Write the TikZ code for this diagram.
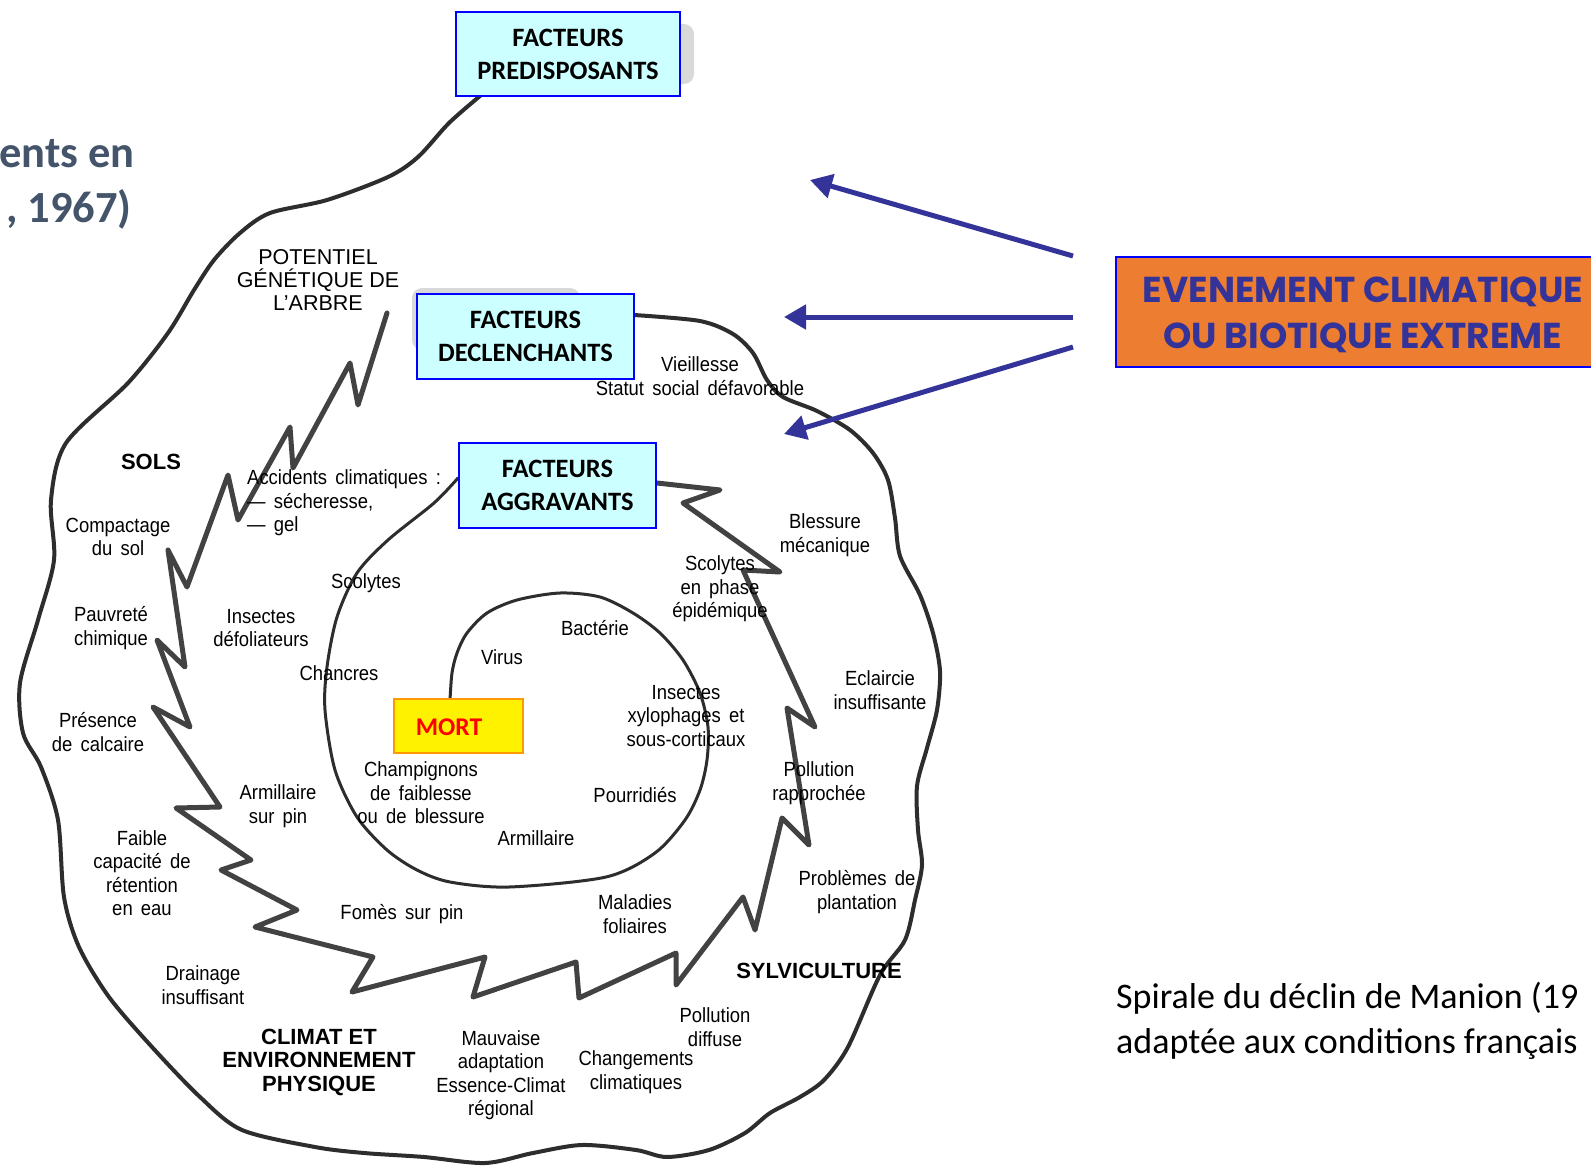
\documentclass[tikz,border=0pt]{standalone}
\usepackage{fontspec}
\setmainfont{Liberation Sans}
\newfontfamily\labfont[FakeStretch=0.9, WordSpace=1.6]{Liberation Sans}
\newfontfamily\boxfont{Carlito}
\newfontfamily\evfont{Poppins}
\usetikzlibrary{arrows.meta}
\definecolor{boxcyan}{RGB}{204,255,255}
\definecolor{boxblue}{RGB}{0,0,255}
\definecolor{evorange}{RGB}{237,125,49}
\definecolor{evblue}{RGB}{51,51,153}
\definecolor{slate}{RGB}{68,84,106}
\definecolor{ink}{RGB}{45,45,45}
\definecolor{mortred}{RGB}{255,0,0}
\definecolor{mortorange}{RGB}{255,153,0}
\tikzset{
  lab/.style={font=\labfont\fontsize{20.5}{23.5}\selectfont, align=center, inner sep=0pt},
  labw/.style={font=\fontsize{21.5}{23}\selectfont, align=center, inner sep=0pt},
  labb/.style={font=\bfseries\fontsize{22}{23.5}\selectfont, align=center, inner sep=0pt},
  facteur/.style={draw=boxblue, fill=boxcyan, line width=1.6pt, font=\boxfont\bfseries\fontsize{26.5}{33}\selectfont, align=center, inner sep=0pt},
  outerline/.style={draw=ink, line width=4pt, line cap=round, line join=round},
  midline/.style={draw=ink, line width=3pt, line cap=round, line join=round},
  zig/.style={draw=ink!90!white, line width=5pt, line cap=round, line join=round},
  evarrow/.style={draw=evblue, line width=5pt, -{Triangle[length=22pt,width=24pt]}},
  shade/.style={fill=gray!30, rounded corners=10pt}
}
\begin{document}
\begin{tikzpicture}[x=1pt,y=-1pt]
\useasboundingbox (0,0) rectangle (1591,1175);
\fill[white] (0,0) rectangle (1591,1175);

% title fragments on the left
\node[anchor=base east, inner sep=0pt, text=slate, font=\boxfont\bfseries\fontsize{44.5}{50}\selectfont] (t1) at (135,167) {ents en};
\node[anchor=base east, inner sep=0pt, text=slate, font=\boxfont\bfseries\fontsize{44.5}{50}\selectfont] (t2) at (132,222) {, 1967)};

% soft shadows from the scanned figure
\fill[shade] (662,24) rectangle (694,84);
\fill[shade] (412,288) rectangle (580,350);

% outer spiral curve
\draw[outerline] plot[smooth] coordinates {(480,96) (449,123) (418,157) (388,177) (327,200) (270,213) (240,233) (214,260) (194,290) (168,333) (128,383) (66,443) (51,500) (54,560) (38,620) (20,683) (23,733) (41,767) (58,820) (64,897) (79,947) (109,997) (152,1047) (200,1097) (242,1130) (315,1147) (364,1153) (424,1157) (485,1163) (533,1153) (582,1145) (636,1150) (667,1157) (709,1150) (745,1133) (770,1113) (800,1097) (824,1080) (848,1047) (880,975) (905,940) (915,900) (922,865) (918,830) (917,786) (927,748) (937,710) (940,671) (933,633) (920,595) (900,556) (895,518) (888,480) (873,453) (850,430) (817,411) (783,397) (767,380) (753,353) (733,334) (700,321) (634,315)};

% middle spiral ending at MORT
\draw[midline] plot[smooth] coordinates {(458,478) (434,503) (388,540) (357,573) (337,617) (327,667) (325,710) (335,770) (357,817) (387,850) (417,870) (450,882) (509,887) (606,877) (655,853) (685,820) (700,790) (707,760) (708,727) (700,693) (683,660) (660,633) (633,613) (600,597) (560,593) (517,600) (487,613) (467,633) (457,653) (452,673) (450,700)};

% zigzag (lightning) band
\draw[zig] (387,313) -- (358,405) -- (350,363) -- (293,468) -- (290,427) -- (238,520) -- (228,475) -- (187,587) -- (168,550) -- (185,667) -- (157,640) -- (190,727) -- (153,707) -- (220,807) -- (176,808) -- (251,860) -- (221,870) -- (297,910) -- (255,927) -- (373,957) -- (352,992) -- (485,957) -- (473,997) -- (576,962) -- (579,998) -- (676,953) -- (676,985) -- (743,897) -- (755,930) -- (782,818) -- (809,845) -- (787,708) -- (815,727) -- (743,570) -- (780,572) -- (683,503) -- (720,490) -- (657,483);

% boxes
\node[facteur, minimum width=224pt, minimum height=84pt] (pred) at (568,54) {FACTEURS\\PREDISPOSANTS};
\node[facteur, minimum width=217pt, minimum height=85pt] (decl) at (525.5,336.5) {FACTEURS\\DECLENCHANTS};
\node[facteur, minimum width=197pt, minimum height=85pt] (aggr) at (557.5,485.5) {FACTEURS\\AGGRAVANTS};
\node[draw=mortorange, fill=yellow, line width=1.6pt, minimum width=129pt, minimum height=54pt, inner sep=0pt] (mort) at (458.5,726) {};
\node[inner sep=0pt, text=mortred, font=\boxfont\bfseries\fontsize{25.5}{30}\selectfont] (mortt) at (449,727) {MORT};

\node[draw=boxblue, fill=evorange, line width=1.6pt, minimum width=504pt, minimum height=110pt, inner sep=0pt] (ev) at (1368,312) {};
\node[inner sep=0pt, text=evblue, align=center, font=\evfont\bfseries\fontsize{36}{46}\selectfont] (evt) at (1363,315) {EVENEMENT CLIMATIQUE\\OU BIOTIQUE EXTREME};

% blue arrows
\coordinate (a1s) at (1073,256); \coordinate (a1e) at (810,180);
\coordinate (a2s) at (1073,317); \coordinate (a2e) at (784,317);
\coordinate (a3s) at (1073,347); \coordinate (a3e) at (784,434);
\draw[evarrow] (a1s) -- (a1e);
\draw[evarrow] (a2s) -- (a2e);
\draw[evarrow] (a3s) -- (a3e);

% caption (as far as the picture shows it)
\node[anchor=base west, inner sep=0pt, align=left, font=\boxfont\fontsize{36}{45}\selectfont] (cap) at (1116,1053) {Spirale du déclin de Manion (19\\adaptée aux conditions français};

% labels
\node[labw] (potentiel) at (318,280) {POTENTIEL\\GÉNÉTIQUE DE\\L’ARBRE};
\node[labb] (sols) at (151,462) {SOLS};
\node[lab] (compact) at (118,537) {Compactage\\du sol};
\node[lab] (pauv) at (111,628) {Pauvreté\\chimique};
\node[lab] (calc) at (98,732) {Présence\\de calcaire};
\node[lab] (faible) at (142,873) {Faible\\capacité de\\rétention\\en eau};
\node[lab] (drain) at (203,985) {Drainage\\insuffisant};
\node[labb] (climat) at (319,1062) {CLIMAT ET\\ENVIRONNEMENT\\PHYSIQUE};
\node[lab] (mauv) at (501,1075) {Mauvaise\\adaptation\\Essence-Climat\\régional};
\node[lab] (chang) at (636,1072) {Changements\\climatiques};
\node[lab] (polld) at (715,1027) {Pollution\\diffuse};
\node[labb] (sylvi) at (819,971) {SYLVICULTURE};
\node[lab] (plant) at (857,892) {Problèmes de\\plantation};
\node[lab] (pollr) at (819,783) {Pollution\\rapprochée};
\node[lab] (eclair) at (880,690) {Eclaircie\\insuffisante};
\node[lab] (bless) at (825,535) {Blessure\\mécanique};
\node[lab] (scolep) at (720,589) {Scolytes\\en phase\\épidémique};
\node[lab] (vieil) at (700,376) {Vieillesse\\Statut social défavorable};
\node[lab, align=left, anchor=west] (accid) at (247,503) {Accidents climatiques :\\— sécheresse,\\— gel};
\node[lab] (defol) at (261,628) {Insectes\\défoliateurs};
\node[lab] (scol) at (366,583) {Scolytes};
\node[lab] (chanc) at (339,673) {Chancres};
\node[lab] (armpin) at (278,806) {Armillaire\\sur pin};
\node[lab] (champ) at (421,793) {Champignons\\de faiblesse\\ou de blessure};
\node[lab] (arm) at (536,838) {Armillaire};
\node[lab] (fomes) at (402,914) {Fomès sur pin};
\node[lab] (malad) at (635,914) {Maladies\\foliaires};
\node[lab] (pourr) at (635,795) {Pourridiés};
\node[lab] (xylo) at (686,716) {Insectes\\xylophages et\\sous-corticaux};
\node[lab] (bact) at (595,628) {Bactérie};
\node[lab] (virus) at (502,657) {Virus};
\end{tikzpicture}
\end{document}
